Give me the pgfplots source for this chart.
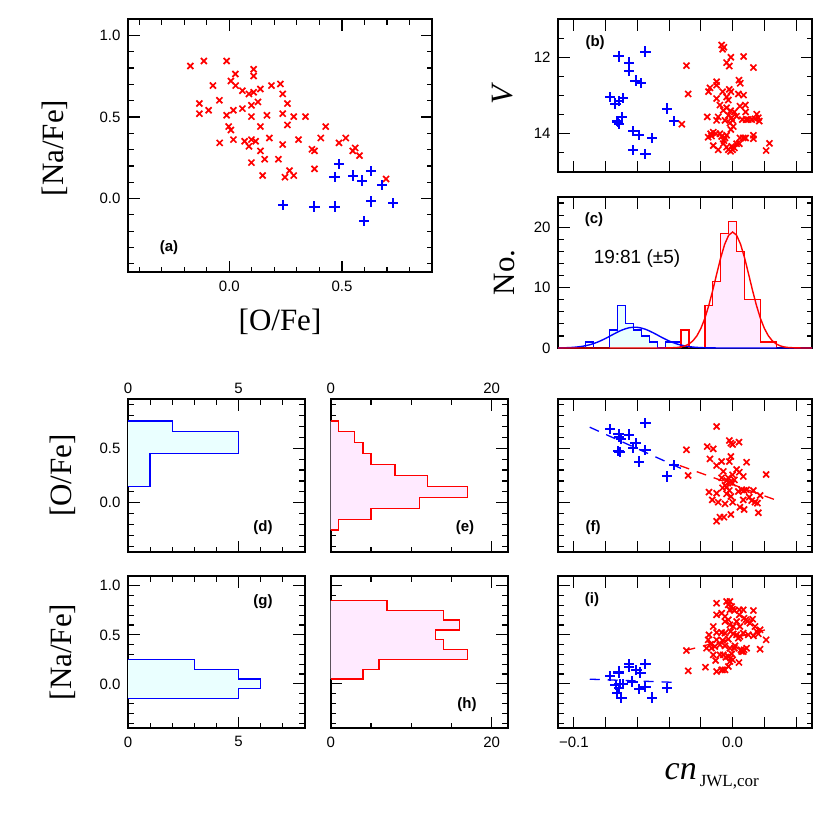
\documentclass[border=0pt]{standalone}
\usepackage{fontspec}
\setmainfont{Liberation Serif}
\setsansfont{Liberation Sans}
\usepackage{pgfplots}
\pgfplotsset{compat=1.18}
\definecolor{pred}{RGB}{255,0,0}
\definecolor{pblue}{RGB}{0,0,255}
\definecolor{cyanfill}{RGB}{234,255,255}
\definecolor{pinkfill}{RGB}{255,234,255}
\newcommand{\tickfont}{\sffamily\fontsize{15}{17}\selectfont}
\newcommand{\labfont}{\rmfamily\fontsize{31}{34}\selectfont}
\newcommand{\panfont}{\sffamily\bfseries\fontsize{15}{17}\selectfont}
\tikzset{plab/.style={font=\panfont, anchor=center}}
\pgfplotsset{
  panel/.style={
    scale only axis, anchor=north west,
    axis line style={line width=1.8pt},
    tick style={black, line width=1.2pt},
    major tick length=11.5pt, minor tick length=5.5pt,
    tick align=inside,
    tick label style={font=\tickfont},
    yticklabel style={xshift=-4pt},
    label style={font=\labfont},
  },
  redx/.style={only marks, mark=x, mark size=3.4pt, color=pred, mark options={line width=1.7pt, line cap=rect}},
  blueplus/.style={only marks, mark=+, mark size=4.2pt, color=pblue, mark options={line width=2pt, line cap=rect}},
  cnaxis/.style={xmin=-0.11, xmax=0.05, xtick={-0.1,-0.08,-0.06,-0.04,-0.02,0,0.02,0.04}, xticklabels={}, width=254pt},
  ofeaxis/.style={ymin=-0.45, ymax=0.95, ytick={0,0.5}, yticklabels={}, minor ytick={-0.4,-0.3,-0.2,-0.1,0.1,0.2,0.3,0.4,0.6,0.7,0.8,0.9}, height=153pt},
  nafeaxis/.style={ymin=-0.45, ymax=1.1, ytick={0,0.5,1}, yticklabels={}, minor ytick={-0.4,-0.3,-0.2,-0.1,0.1,0.2,0.3,0.4,0.6,0.7,0.8,0.9}, height=152pt},
  cntaxis/.style={xmin=0, xmax=8, xtick={0,5}, xticklabels={}, minor xtick={1,2,3,4,6,7}, width=177pt},
  cnbaxis/.style={xmin=0, xmax=22, xtick={0,20}, xticklabels={}, minor xtick={5,10,15}, width=177pt},
}
\begin{document}
\begin{tikzpicture}
\path[use as bounding box] (0pt,0pt) rectangle (830pt,-830pt);
% ---------------- (a)
\begin{axis}[panel, at={(128pt,-19pt)}, width=304pt, height=253pt,
  xmin=-0.45, xmax=0.9, ymin=-0.45, ymax=1.1,
  xtick={0,0.5}, xticklabels={0.0,0.5},
  minor xtick={-0.4,-0.3,-0.2,-0.1,0.1,0.2,0.3,0.4,0.6,0.7,0.8},
  ytick={0,0.5,1}, yticklabels={0.0,0.5,1.0},
  minor ytick={-0.4,-0.3,-0.2,-0.1,0.1,0.2,0.3,0.4,0.6,0.7,0.8,0.9},
  xticklabel style={yshift=-5pt},
  xlabel={\relax[O/Fe]}, ylabel={\relax[Na/Fe]},
  xlabel style={at={(axis description cs:0.5,-0.198)}, anchor=center},
  ylabel style={at={(axis description cs:-0.24,0.49)}, anchor=center},
]
\addplot[redx] coordinates {(-0.173,0.812) (-0.113,0.843) (-0.012,0.843) (0.108,0.792) (0.027,0.763) (0.108,0.751) (0.007,0.720) (-0.073,0.692) (0.028,0.692) (0.187,0.692) (0.227,0.702) (0.058,0.661) (0.087,0.641) (0.108,0.651) (0.138,0.671) (0.237,0.641) (-0.133,0.582) (-0.044,0.602) (0.127,0.592) (0.258,0.582) (0.098,0.571) (-0.133,0.520) (-0.092,0.541) (0.018,0.541) (0.058,0.551) (-0.012,0.510) (0.098,0.502) (0.167,0.510) (0.237,0.520) (0.286,0.502) (0.338,0.502) (-0.003,0.441) (0.007,0.420) (0.138,0.441) (0.258,0.451) (0.428,0.441) (-0.043,0.341) (0.018,0.361) (0.068,0.351) (0.098,0.361) (0.117,0.351) (0.087,0.320) (0.178,0.371) (0.307,0.361) (0.406,0.371) (0.237,0.331) (0.487,0.341) (0.517,0.371) (0.138,0.292) (0.367,0.302) (0.378,0.292) (0.548,0.292) (0.559,0.310) (0.578,0.263) (0.157,0.241) (0.218,0.241) (0.098,0.220) (0.378,0.182) (0.267,0.171) (0.148,0.141) (0.247,0.131) (0.286,0.141) (0.696,0.120)};
\addplot[blueplus] coordinates {(0.487,0.210) (0.467,0.131) (0.548,0.141) (0.628,0.169) (0.588,0.110) (0.677,0.082) (0.237,-0.039) (0.378,-0.049) (0.467,-0.049) (0.628,-0.018) (0.727,-0.029) (0.597,-0.139)};
\node[plab] at (axis description cs:0.135,0.095) {(a)};
\end{axis}
% ---------------- (b)
\begin{axis}[panel, cnaxis, at={(558pt,-19pt)}, height=153pt,
  ymin=11, ymax=15, y dir=reverse,
  ytick={12,14}, yticklabels={12,14}, minor ytick={11.5,12.5,13,13.5,14.5},
  ylabel={\itshape V},
  ylabel style={at={(axis description cs:-0.22,0.5)}, anchor=center},
]
\addplot[blueplus] coordinates {(-0.0718,11.98) (-0.0549,11.85) (-0.0653,12.14) (-0.0653,12.36) (-0.0611,12.61) (-0.0579,12.67) (-0.0771,13.04) (-0.0739,13.21) (-0.0716,13.15) (-0.0691,13.06) (-0.0699,13.56) (-0.0728,13.67) (-0.0716,13.74) (-0.0724,13.69) (-0.0413,13.34) (-0.0371,13.67) (-0.0627,13.93) (-0.0589,14.03) (-0.0507,14.11) (-0.0627,14.42) (-0.0549,14.53)};
\addplot[redx] coordinates {(-0.0069,11.68) (-0.0063,11.79) (-0.0055,11.74) (-0.0291,12.22) (-0.0011,12.00) (0.0069,11.98) (-0.0038,12.14) (-0.0021,12.23) (0.0131,12.27) (-0.0280,12.96) (-0.0320,13.75) (0.0040,12.60) (0.0048,12.68) (-0.0101,12.64) (-0.0101,12.73) (-0.0143,12.80) (-0.0152,12.90) (-0.0063,12.90) (-0.0021,12.84) (-0.0011,12.90) (0.0036,12.96) (0.0069,12.99) (-0.0101,13.08) (-0.0038,13.04) (-0.0027,13.12) (-0.0080,13.25) (-0.0038,13.32) (0.0046,13.28) (0.0080,13.25) (-0.0059,13.39) (-0.0013,13.40) (0.0011,13.43) (0.0082,13.43) (-0.0160,13.56) (-0.0091,13.56) (-0.0027,13.52) (-0.0006,13.58) (0.0025,13.54) (0.0152,13.49) (0.0162,13.58) (-0.0101,13.65) (-0.0048,13.65) (0.0000,13.65) (0.0061,13.63) (0.0084,13.63) (0.0099,13.63) (0.0120,13.63) (0.0141,13.61) (0.0168,13.67) (-0.0017,13.72) (0.0004,13.81) (-0.0011,13.89) (-0.0122,13.96) (-0.0139,14.00) (-0.0154,14.09) (-0.0133,14.06) (-0.0105,14.00) (-0.0080,14.00) (-0.0069,14.07) (-0.0048,14.11) (-0.0038,14.04) (0.0046,14.11) (0.0067,14.11) (0.0082,14.11) (0.0131,14.04) (0.0131,14.13) (-0.0122,14.31) (-0.0091,14.42) (-0.0059,14.26) (-0.0038,14.35) (-0.0027,14.42) (-0.0013,14.46) (0.0000,14.42) (0.0011,14.37) (0.0025,14.26) (0.0042,14.26) (0.0211,14.44) (0.0232,14.25) (-0.0006,14.33) (-0.0055,14.18)};
\node[plab] at (axis description cs:0.146,0.843) {(b)};
\end{axis}
% ---------------- (c)
\begin{axis}[panel, cnaxis, at={(558pt,-197pt)}, height=151pt,
  ymin=0, ymax=25,
  ytick={0,10,20}, yticklabels={0,10,20}, minor ytick={2,4,6,8,12,14,16,18,22,24},
  xtick pos=right,
  ylabel={No.},
  ylabel style={at={(axis description cs:-0.209,0.5)}, anchor=center},
]
\addplot[fill=cyanfill, draw=pblue, line width=1.3pt] coordinates {(-0.0775,0) (-0.0775,3) (-0.0725,3) (-0.0725,7) (-0.0675,7) (-0.0675,4) (-0.0625,4) (-0.0625,3) (-0.0575,3) (-0.0575,2) (-0.0525,2) (-0.0525,1) (-0.0475,1) (-0.0475,0) (-0.0425,0) (-0.0425,1) (-0.0325,1) (-0.0325,0)};
\addplot[draw=pblue, line width=1.3pt] coordinates {(-0.0925,0) (-0.0925,1) (-0.0875,1) (-0.0875,0)};
\addplot[fill=pinkfill, draw=pred, line width=1.3pt] coordinates {(-0.0175,0) (-0.0175,7) (-0.0125,7) (-0.0125,11) (-0.0075,11) (-0.0075,19) (-0.0025,19) (-0.0025,21) (0.0025,21) (0.0025,16) (0.0075,16) (0.0075,8) (0.0175,8) (0.0175,1) (0.0275,1) (0.0275,0)};
\addplot[draw=pred, line width=1.3pt] coordinates {(-0.0325,0) (-0.0325,3) (-0.0275,3) (-0.0275,0)};
\addplot[pblue, line width=1.4pt, smooth] coordinates {(-0.110,0.016) (-0.105,0.045) (-0.100,0.116) (-0.095,0.265) (-0.090,0.541) (-0.085,0.983) (-0.080,1.589) (-0.075,2.291) (-0.070,2.941) (-0.065,3.364) (-0.060,3.427) (-0.055,3.109) (-0.050,2.513) (-0.045,1.810) (-0.040,1.161) (-0.035,0.663) (-0.030,0.337) (-0.025,0.153) (-0.020,0.062) (-0.015,0.022) (-0.010,0.007) (0.000,0.001) (0.050,0)};
\addplot[pred, line width=1.4pt] coordinates {(-0.110,0) (-0.050,0) (-0.045,0.002) (-0.040,0.016) (-0.035,0.082) (-0.0325,0.175) (-0.030,0.350) (-0.0275,0.664) (-0.025,1.19) (-0.0225,2.02) (-0.020,3.24) (-0.0175,4.91) (-0.015,7.06) (-0.0125,9.58) (-0.010,12.30) (-0.0075,14.95) (-0.005,17.18) (-0.0025,18.67) (0,19.2) (0.0025,18.67) (0.005,17.18) (0.0075,14.95) (0.010,12.30) (0.0125,9.58) (0.015,7.06) (0.0175,4.91) (0.020,3.24) (0.0225,2.02) (0.025,1.19) (0.0275,0.664) (0.030,0.350) (0.0325,0.175) (0.035,0.082) (0.040,0.016) (0.045,0.002) (0.050,0)};
\node[plab] at (axis description cs:0.142,0.848) {(c)};
\node[font=\sffamily\fontsize{19}{21}\selectfont] at (axis description cs:0.311,0.589) {19:81 (±5)};
\end{axis}
% ---------------- (d)
\begin{axis}[panel, cntaxis, ofeaxis, at={(128pt,-399pt)},
  xticklabels={0,5}, xticklabel pos=right, xticklabel style={yshift=2pt},
  yticklabels={0.0,0.5},
  ylabel={\relax[O/Fe]},
  ylabel style={at={(axis description cs:-0.366,0.5)}, anchor=center},
]
\addplot[fill=cyanfill, draw=pblue, line width=1.3pt] coordinates {(0,0.75) (2,0.75) (2,0.65) (5,0.65) (5,0.45) (1,0.45) (1,0.15) (0,0.15)};
\node[plab] at (axis description cs:0.763,0.157) {(d)};
\end{axis}
% ---------------- (e)
\begin{axis}[panel, cnbaxis, ofeaxis, at={(330.7pt,-399pt)},
  xticklabels={0,20}, xticklabel pos=right, xticklabel style={yshift=2pt},
]
\addplot[fill=pinkfill, draw=pred, line width=1.3pt] coordinates {(0,0.75) (1,0.75) (1,0.65) (3,0.65) (3,0.55) (4,0.55) (4,0.45) (5,0.45) (5,0.35) (8,0.35) (8,0.25) (12,0.25) (12,0.15) (17,0.15) (17,0.05) (11,0.05) (11,-0.05) (5,-0.05) (5,-0.15) (1,-0.15) (1,-0.25) (0,-0.25)};
\node[plab] at (axis description cs:0.759,0.157) {(e)};
\end{axis}
% ---------------- (f)
\begin{axis}[panel, cnaxis, ofeaxis, at={(558pt,-399pt)}]
\addplot[pblue, line width=1.3pt, dash pattern=on 10pt off 8pt] coordinates {(-0.090,0.692) (-0.031,0.305)};
\addplot[pred, line width=1.3pt, dash pattern=on 10pt off 8pt] coordinates {(-0.0333,0.341) (0.0299,0.012)};
\addplot[blueplus] coordinates {(-0.0771,0.674) (-0.0718,0.631) (-0.0703,0.585) (-0.0716,0.601) (-0.0653,0.625) (-0.0549,0.729) (-0.0611,0.546) (-0.0627,0.503) (-0.0720,0.473) (-0.0712,0.463) (-0.0549,0.485) (-0.0589,0.378) (-0.0371,0.348) (-0.0413,0.241)};
\addplot[redx] coordinates {(-0.0101,0.698) (-0.0291,0.485) (-0.0280,0.250) (-0.0160,0.515) (-0.0122,0.494) (-0.0143,0.402) (-0.0101,0.341) (-0.0069,0.378) (-0.0021,0.570) (-0.0011,0.546) (0.0000,0.534) (0.0040,0.555) (-0.0011,0.424) (-0.0021,0.378) (0.0088,0.372) (-0.0059,0.287) (0.0000,0.256) (0.0025,0.305) (0.0042,0.280) (0.0067,0.241) (-0.0069,0.229) (-0.0038,0.204) (-0.0027,0.229) (-0.0017,0.189) (-0.0048,0.159) (-0.0063,0.137) (-0.0038,0.143) (-0.0021,0.113) (0.0000,0.180) (0.0011,0.210) (-0.0149,0.098) (-0.0101,0.088) (-0.0038,0.082) (0.0036,0.104) (0.0057,0.119) (0.0072,0.113) (0.0088,0.119) (0.0131,0.113) (0.0173,0.067) (0.0211,0.259) (-0.0128,0.027) (-0.0091,0.006) (-0.0048,-0.009) (-0.0011,0.058) (0.0000,0.006) (0.0067,0.027) (0.0120,0.021) (0.0141,0.006) (0.0156,-0.003) (0.0105,0.052) (0.0046,-0.040) (0.0072,-0.061) (0.0162,-0.091) (-0.0011,-0.107) (-0.0080,-0.131) (-0.0055,-0.131) (-0.0101,-0.168)};
\node[plab] at (axis description cs:0.138,0.157) {(f)};
\end{axis}
% ---------------- (g)
\begin{axis}[panel, cntaxis, nafeaxis, at={(128pt,-576pt)},
  xticklabels={0,5}, xticklabel style={yshift=-5pt},
  yticklabels={0.0,0.5,1.0},
  ylabel={\relax[Na/Fe]},
  ylabel style={at={(axis description cs:-0.366,0.5)}, anchor=center},
]
\addplot[fill=cyanfill, draw=pblue, line width=1.3pt] coordinates {(0,0.25) (3,0.25) (3,0.15) (5,0.15) (5,0.05) (6,0.05) (6,-0.05) (5,-0.05) (5,-0.15) (0,-0.15)};
\node[plab] at (axis description cs:0.763,0.829) {(g)};
\end{axis}
% ---------------- (h)
\begin{axis}[panel, cnbaxis, nafeaxis, at={(330.7pt,-576pt)},
  xticklabels={0,20}, xticklabel style={yshift=-5pt},
]
\addplot[fill=pinkfill, draw=pred, line width=1.3pt] coordinates {(0,0.85) (7,0.85) (7,0.75) (14,0.75) (14,0.65) (16,0.65) (16,0.55) (13,0.55) (13,0.45) (14,0.45) (14,0.35) (17,0.35) (17,0.25) (6,0.25) (6,0.15) (4,0.15) (4,0.05) (0,0.05)};
\node[plab] at (axis description cs:0.770,0.151) {(h)};
\end{axis}
% ---------------- (i)
\begin{axis}[panel, cnaxis, nafeaxis, at={(558pt,-576pt)},
  xticklabels={−0.1,,,,,0.0,,}, xticklabel style={yshift=-5pt},
  xlabel={\fontsize{34}{36}\selectfont\textit{cn}\hspace{3pt}\raisebox{-7pt}{\fontsize{17}{19}\selectfont JWL,cor}},
  xlabel style={at={(axis description cs:0.406,-0.342)}, anchor=base west},
]
\addplot[pblue, line width=1.3pt, dash pattern=on 10pt off 8pt] coordinates {(-0.090,0.048) (-0.0343,0.014)};
\addplot[pred, line width=1.3pt, dash pattern=on 10pt off 8pt] coordinates {(-0.0297,0.340) (0.0246,0.568)};
\addplot[blueplus] coordinates {(-0.0771,0.082) (-0.0718,0.126) (-0.0718,0.109) (-0.0653,0.204) (-0.0653,0.170) (-0.0606,0.143) (-0.0581,0.116) (-0.0549,0.204) (-0.0737,-0.010) (-0.0712,0.000) (-0.0691,-0.003) (-0.0716,-0.044) (-0.0728,-0.088) (-0.0701,-0.139) (-0.0632,0.024) (-0.0589,-0.054) (-0.0549,-0.034) (-0.0507,-0.139) (-0.0413,-0.044)};
\addplot[redx] coordinates {(-0.0291,0.340) (-0.0280,0.133) (-0.0171,0.170) (-0.0164,0.364) (-0.0149,0.500) (-0.0139,0.405) (-0.0133,0.364) (-0.0122,0.296) (-0.0107,0.238) (-0.0101,0.126) (-0.0069,0.143) (-0.0063,0.143) (-0.0048,0.143) (-0.0027,0.177) (-0.0017,0.228) (-0.0080,0.296) (-0.0059,0.296) (-0.0042,0.272) (-0.0027,0.279) (-0.0013,0.262) (0.0000,0.245) (-0.0006,0.306) (0.0040,0.218) (0.0053,0.347) (0.0072,0.347) (0.0088,0.364) (0.0067,0.330) (0.0011,0.364) (-0.0017,0.364) (-0.0048,0.388) (-0.0080,0.398) (-0.0112,0.381) (0.0015,0.388) (0.0173,0.354) (-0.0101,0.823) (-0.0069,0.721) (-0.0048,0.687) (-0.0038,0.840) (-0.0027,0.806) (-0.0017,0.840) (-0.0006,0.789) (-0.0017,0.755) (0.0000,0.762) (0.0011,0.748) (0.0042,0.755) (0.0067,0.755) (0.0131,0.748) (-0.0048,0.636) (-0.0027,0.653) (-0.0017,0.602) (0.0004,0.585) (0.0042,0.704) (0.0072,0.670) (0.0084,0.653) (0.0093,0.636) (0.0109,0.619) (0.0126,0.660) (0.0141,0.585) (0.0152,0.534) (0.0173,0.551) (-0.0101,0.524) (-0.0069,0.524) (-0.0048,0.517) (-0.0013,0.534) (0.0004,0.510) (0.0025,0.500) (0.0046,0.483) (0.0067,0.517) (0.0099,0.500) (0.0036,0.466) (-0.0027,0.456) (-0.0063,0.442) (-0.0101,0.449) (-0.0154,0.449) (0.0211,0.449) (0.0131,0.490) (0.0162,0.510) (-0.0122,0.585) (-0.0101,0.704) (0.0025,0.636) (0.0046,0.585) (0.0057,0.330)};
\node[plab] at (axis description cs:0.134,0.842) {(i)};
\end{axis}
\end{tikzpicture}
\end{document}
